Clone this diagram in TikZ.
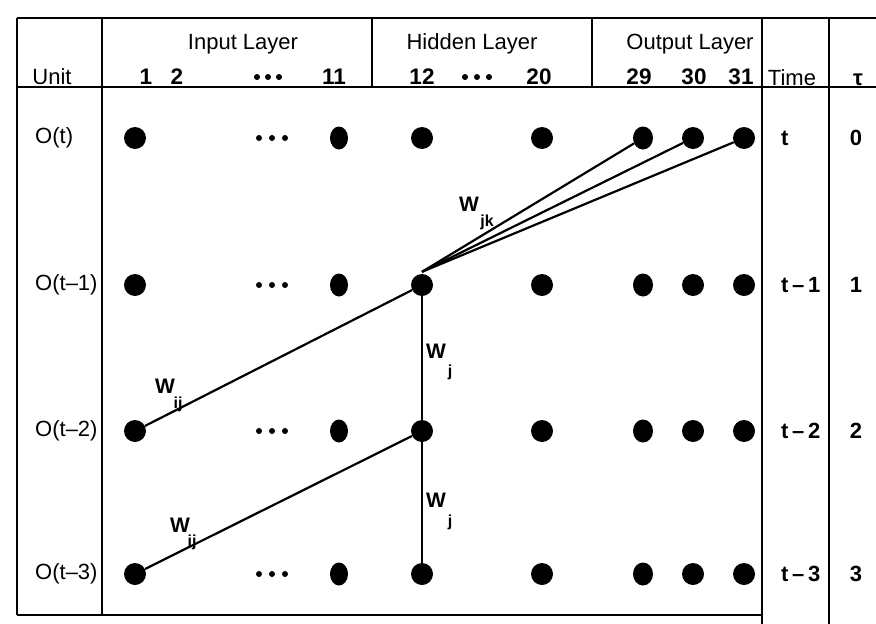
\documentclass[tikz,border=0pt]{standalone}
\usepackage{fontspec}
\setmainfont{Liberation Sans}
\usetikzlibrary{shapes.geometric}
\begin{document}
\begin{tikzpicture}[x=1pt,y=-1pt,
  neuron/.style={circle,fill=black,inner sep=0pt,minimum size=22pt},
  oval/.style={ellipse,fill=black,inner sep=0pt,minimum width=18pt,minimum height=23pt},
  tablerule/.style={line width=1.8pt},
  wire/.style={line width=2.2pt},
  lab/.style={font=\fontsize{22}{26}\selectfont,inner sep=0pt},
  num/.style={font=\bfseries\fontsize{22.5}{26}\selectfont,inner sep=0pt,anchor=base},
  vlab/.style={font=\bfseries\fontsize{22}{26}\selectfont,inner sep=0pt},
  wlab/.style={font=\bfseries\fontsize{21}{24}\selectfont,inner sep=0pt},
  wsub/.style={font=\bfseries\fontsize{16}{18}\selectfont,inner sep=0pt},
]
\useasboundingbox[fill=white] (0,0) rectangle (876,624);

% table rules
\draw[tablerule] (17,18) -- (876,18);
\draw[tablerule] (17,87) -- (876,87);
\draw[tablerule] (17,615) -- (762,615);
\draw[tablerule] (17,18) -- (17,615);
\draw[tablerule] (102,18) -- (102,615);
\draw[tablerule] (372,18) -- (372,87);
\draw[tablerule] (592,18) -- (592,87);
\draw[tablerule] (762,18) -- (762,624);
\draw[tablerule] (829,18) -- (829,624);

% header texts
\node[lab,anchor=base] (hin) at (243,49) {Input Layer};
\node[lab,anchor=base] (hhid) at (472,49) {Hidden Layer};
\node[lab,anchor=base] (hout) at (690,49) {Output Layer};
\node[lab,anchor=base] (hunit) at (52,84) {Unit};
\node[lab,anchor=base] (htime) at (792,85) {Time};
\node[vlab,anchor=base] (htau) at (858,85) {τ};
\node[num] (n1) at (146,84) {1};
\node[num] (n2) at (177,84) {2};
\node[num] (n11) at (334,84) {11};
\node[num] (n12) at (422,84) {12};
\node[num] (n20) at (539,84) {20};
\node[num] (n29) at (639,84) {29};
\node[num] (n30) at (694,84) {30};
\node[num] (n31) at (741,84) {31};
\foreach \x in {257,268,279,465,477,489} \fill (\x,77) circle (3pt);

% rows
\foreach \r/\y/\lbl/\tm/\tv in {0/138/O(t)/t/0, 1/285/O(t–1)/t\,–\,1/1, 2/431/O(t–2)/t\,–\,2/2, 3/574/O(t–3)/t\,–\,3/3} {
  \node[lab,anchor=west] (u\r) at (35,\y) {\lbl};
  \node[vlab,anchor=west] (tm\r) at (781,\y) {\tm};
  \node[vlab] (ta\r) at (856,\y) {\tv};
  \node[neuron] (i1-\r) at (135,\y) {};
  \node[oval] (i11-\r) at (339,\y) {};
  \node[neuron] (h12-\r) at (422,\y) {};
  \node[neuron] (h20-\r) at (542,\y) {};
  \node[oval,minimum width=20pt] (o29-\r) at (643,\y) {};
  \node[neuron] (o30-\r) at (693,\y) {};
  \node[neuron] (o31-\r) at (744,\y) {};
  \foreach \x in {259,272,285} \fill (\x,\y) circle (3pt);
}

% connections
\draw[wire] (i1-2) -- (h12-1);
\draw[wire] (i1-3) -- (h12-2);
\draw[wire] (h12-1) -- (h12-2);
\draw[wire] (h12-2) -- (h12-3);
\coordinate (fan) at ([yshift=2pt]h12-1.north);
\draw[wire] (fan) -- (o29-0);
\draw[wire] (fan) -- (o30-0);
\draw[wire] (fan) -- (o31-0);

% weight labels
\node[wlab] (wij1) at (165,386) {W};
\node[wsub] (wij1s) at (178,404) {ij};
\node[wlab] (wij2) at (180,525) {W};
\node[wsub] (wij2s) at (192,542) {ij};
\node[wlab] (wj1) at (436,351) {W};
\node[wsub] (wj1s) at (450,372) {j};
\node[wlab] (wj2) at (436,500) {W};
\node[wsub] (wj2s) at (450,522) {j};
\node[wlab] (wjk) at (469,204) {W};
\node[wsub] (wjks) at (487,222) {jk};
\end{tikzpicture}
\end{document}
